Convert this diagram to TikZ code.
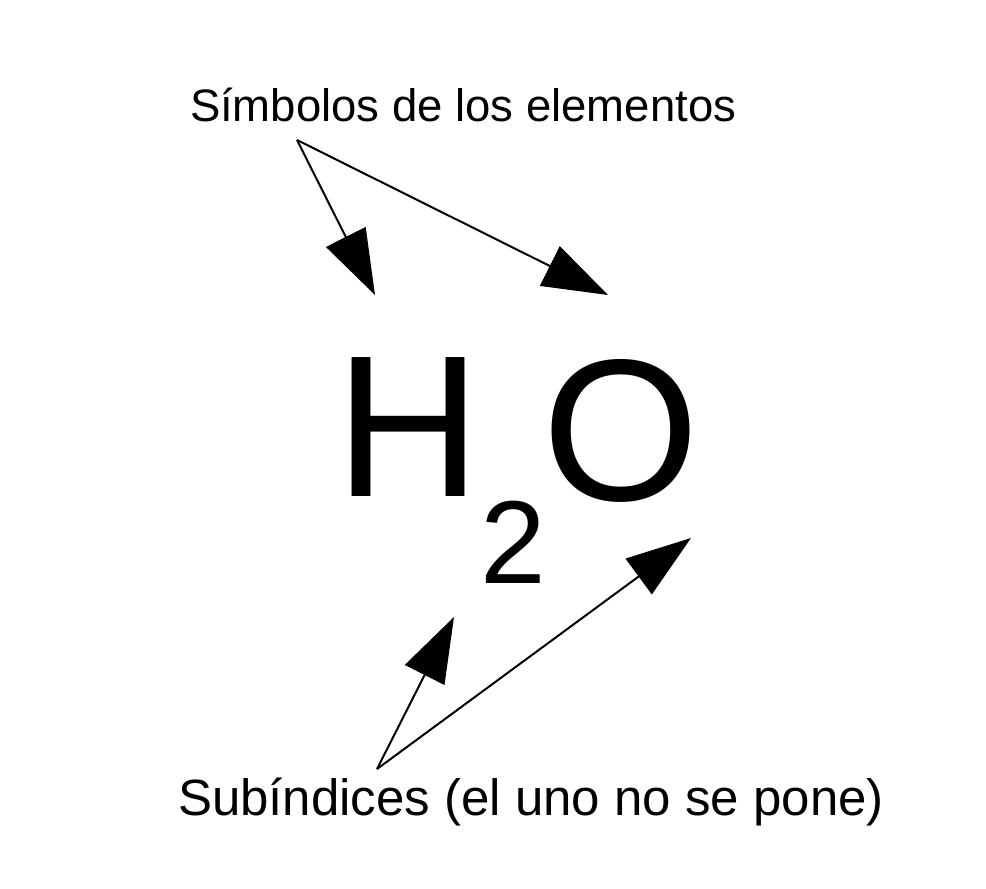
\documentclass[tikz,border=0pt]{standalone}
\usepackage{fontspec}
\setmainfont{Liberation Sans}
\usetikzlibrary{arrows.meta}
\begin{document}
\begin{tikzpicture}[x=1pt,y=-1pt,
  lbl/.style={inner sep=0pt,outer sep=0pt,anchor=base west},
  ptr/.style={line width=2pt,-{Triangle[length=65pt,width=44pt]}}]
\useasboundingbox[fill=white] (0,0) rectangle (986,889);
\node[lbl,font=\fontsize{45.5}{50}\selectfont] (top) at (190,121) {Símbolos de los elementos};
\node[lbl,font=\fontsize{202}{220}\selectfont] (H) at (335,496) {H};
\node[lbl,font=\fontsize{118}{130}\selectfont] (two) at (480,583) {2};
\node[lbl,font=\fontsize{202}{220}\selectfont] (O) at (542,500) {O};
\node[lbl,font=\fontsize{51}{56}\selectfont] (bot) at (178,815) {Subíndices (el uno no se pone)};
\coordinate (s1) at (297,140);
\coordinate (t1) at (375,295);
\coordinate (t2) at (608,295);
\coordinate (s2) at (377,769);
\coordinate (t3) at (454,617);
\coordinate (t4) at (691,538);
\draw[ptr] (s1) -- (t1);
\draw[ptr] (s1) -- (t2);
\draw[ptr] (s2) -- (t3);
\draw[ptr] (s2) -- (t4);
\end{tikzpicture}
\end{document}
